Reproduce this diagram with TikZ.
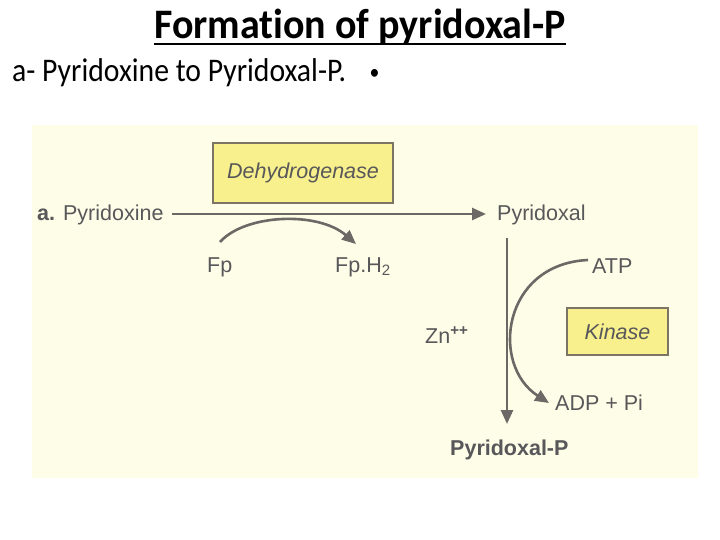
\documentclass[tikz,border=0pt]{standalone}
\usepackage{fontspec}
\setmainfont[Ligatures=NoCommon]{Carlito}
\newfontfamily\arialf{Liberation Sans}
\usetikzlibrary{arrows.meta}
\definecolor{txtgray}{HTML}{58585A}
\definecolor{linegray}{HTML}{6B6866}
\definecolor{bgcream}{HTML}{FEFDE8}
\definecolor{boxfill}{HTML}{F8F08C}
\definecolor{boxline}{HTML}{7C7566}
\tikzset{
  lbl/.style={inner sep=0pt, anchor=base west, text=txtgray, font=\arialf\fontsize{21.5}{24}\selectfont},
  enzyme/.style={draw=boxline, line width=2.5pt, fill=boxfill, inner sep=0pt, text=txtgray, font=\arialf\itshape\fontsize{21.5}{24}\selectfont},
  conn/.style={draw=linegray, line width=2.6pt, -{Triangle[length=14pt,width=12pt]}},
}
\begin{document}
\begin{tikzpicture}[x=1pt,y=-1pt]
\useasboundingbox (0,0) rectangle (720,540);
\fill[white] (0,0) rectangle (720,540);
\fill[bgcream] (32,125) rectangle (698,478);
% title
\node[inner sep=0pt, anchor=base, yscale=1.05, font=\bfseries\fontsize{40}{44}\selectfont] (title) at (360,39) {Formation of pyridoxal-P};
\draw[line width=2.6pt] ([yshift=-5pt]title.base west) -- ([yshift=-5pt]title.base east);
\node[inner sep=0pt, anchor=base west, xscale=0.9, font=\fontsize{33}{36}\selectfont] (sub) at (12,82) {a- Pyridoxine to Pyridoxal-P.\hspace{26pt}{\fontsize{22}{24}\selectfont\raisebox{2pt}{•}}};
% enzyme boxes
\node[enzyme, minimum width=180pt, minimum height=60pt] (dh) at (303,173) {Dehydrogenase};
\node[enzyme, minimum width=101pt, minimum height=47pt] (kin) at (617.5,331.5) {Kinase};
% labels
\node[lbl] (pyx) at (37,221) {\textbf{a.} Pyridoxine};
\node[lbl] (pyl) at (497,221) {Pyridoxal};
\node[lbl] (fp) at (207,272) {Fp};
\node[lbl] (fph) at (335,272) {Fp.H\textsubscript{2}};
\node[lbl] (atp) at (592,273) {ATP};
\node[lbl] (zn) at (425,343) {Zn\textsuperscript{\textbf{++}}};
\node[lbl] (adp) at (555,410) {ADP + Pi};
\node[lbl, font=\arialf\bfseries\fontsize{21.5}{24}\selectfont] (pyp) at (450,455) {Pyridoxal-P};
% connectors
\coordinate (m1) at (172,214);
\coordinate (m2) at (486,214);
\draw[conn] (m1) -- (m2);
\coordinate (f1) at (220,242);
\coordinate (f2) at (356,244);
\draw[conn] (f1) .. controls (245,214) and (318,211) .. (f2);
\coordinate (v1) at (507,238);
\coordinate (v2) at (507,424);
\draw[conn] (v1) -- (v2);
\coordinate (a1) at (588,260);
\coordinate (a2) at (549,403);
\draw[conn] (a1) .. controls (502,264) and (490,365) .. (a2);
\end{tikzpicture}
\end{document}
